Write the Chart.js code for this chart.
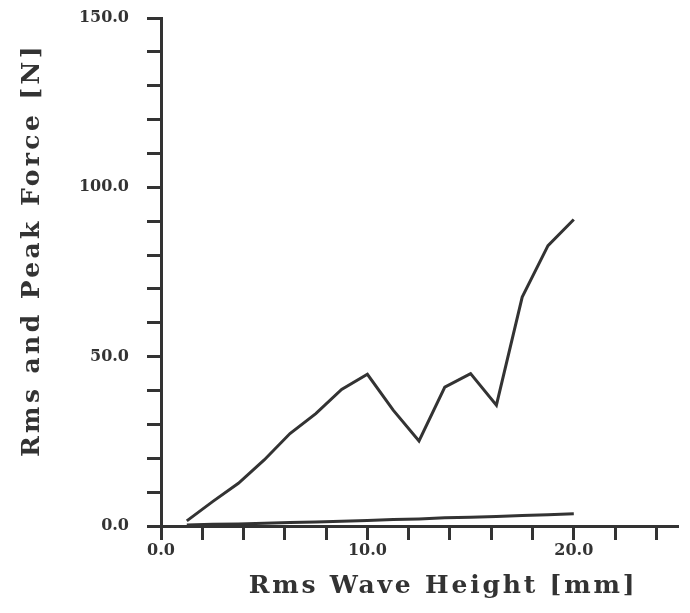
<!DOCTYPE html>
<html>
<head>
<meta charset="utf-8">
<script src="https://cdn.jsdelivr.net/npm/chart.js@4/dist/chart.umd.min.js"></script>
<style>
  html, body { margin: 0; padding: 0; background: #ffffff; }
  #wrap { width: 690px; height: 613px; position: relative; }
</style>
</head>
<body>
<div id="wrap"><canvas id="chart"></canvas></div>
<script>
// ---- data ----
const waveHeight = [1.25, 2.5, 3.75, 5, 6.25, 7.5, 8.75, 10, 11.25, 12.5, 13.75, 15, 16.25, 17.5, 18.75, 20];
const peakForce  = [1.5, 7.2, 12.6, 19.5, 27.3, 33.2, 40.3, 44.8, 34.2, 25.1, 41.0, 45.0, 35.7, 67.6, 82.8, 90.5];
const rmsForce   = [0.3, 0.5, 0.6, 0.8, 1.0, 1.2, 1.4, 1.6, 1.9, 2.1, 2.4, 2.6, 2.8, 3.1, 3.3, 3.6];
const xTickValues = [0, 10, 20];
const xTickLabels = ['0.0', '10.0', '20.0'];
const yTickValues = [0, 50, 100, 150];
const yTickLabels = ['0.0', '50.0', '100.0', '150.0'];
const xTitle = 'Rms Wave Height [mm]';
const yTitle = 'Rms and Peak Force [N]';

// ---- styling ----
const ink = '#333333';
const titleStyle = {
  x: { dx: 24, dy: 0, spacing: '2.8px' },
  y: { dx: 0, dy: -22, spacing: '3.4px' }
};

class SpacedTitleScale extends Chart.LinearScale {
  drawTitle() {
    const ctx = this.ctx;
    const s = titleStyle[this.id] || { dx: 0, dy: 0, spacing: '0px' };
    ctx.save();
    ctx.letterSpacing = s.spacing;
    ctx.translate(s.dx, s.dy);
    super.drawTitle();
    ctx.restore();
  }
}
SpacedTitleScale.id = 'spacedLinear';
SpacedTitleScale.defaults = Chart.LinearScale.defaults;
Chart.register(SpacedTitleScale);

const toPoints = (xs, ys) => xs.map((x, i) => ({ x: x, y: ys[i] }));
const lookup = (vals, labels) => (v) => { const i = vals.indexOf(v); return i >= 0 ? labels[i] : ''; };

const tickFont = { family: 'DejaVu Serif', weight: 'bold', size: 16 };
const titleFont = { family: 'DejaVu Serif', weight: 'bold', size: 25 };

new Chart(document.getElementById('chart'), {
  type: 'line',
  data: {
    datasets: [
      { label: 'Peak Force', data: toPoints(waveHeight, peakForce), borderColor: ink, borderWidth: 3, pointRadius: 0, tension: 0, fill: false },
      { label: 'Rms Force',  data: toPoints(waveHeight, rmsForce),  borderColor: ink, borderWidth: 3, pointRadius: 0, tension: 0, fill: false }
    ]
  },
  options: {
    responsive: true,
    maintainAspectRatio: false,
    devicePixelRatio: 1,
    animation: false,
    layout: { padding: { top: 18, right: 13, left: 0, bottom: 0 } },
    plugins: { legend: { display: false }, tooltip: { enabled: false } },
    scales: {
      x: {
        type: 'spacedLinear',
        position: 'bottom',
        min: 0, max: 25,
        afterFit: (s) => { s.height = 87; s.paddingLeft = 0; s.paddingRight = 0; },
        border: { display: true, color: ink, width: 3 },
        grid: { display: true, drawOnChartArea: false, drawTicks: true, tickLength: 14, color: ink, lineWidth: 3 },
        ticks: {
          stepSize: 2, includeBounds: false, autoSkip: false, maxRotation: 0, minRotation: 0,
          padding: 1, color: ink, font: tickFont,
          callback: lookup(xTickValues, xTickLabels)
        },
        title: { display: true, text: xTitle, color: ink, font: titleFont, padding: { top: 4, bottom: 12 } }
      },
      y: {
        type: 'spacedLinear',
        position: 'left',
        min: 0, max: 150,
        afterFit: (s) => { s.width = 161; s.paddingTop = 0; s.paddingBottom = 0; },
        border: { display: true, color: ink, width: 3 },
        grid: { display: true, drawOnChartArea: false, drawTicks: true, tickLength: 14, color: ink, lineWidth: 3 },
        ticks: {
          stepSize: 10, includeBounds: false, autoSkip: false,
          padding: 18, color: ink, font: tickFont,
          callback: lookup(yTickValues, yTickLabels)
        },
        title: { display: true, text: yTitle, color: ink, font: titleFont, padding: { top: 17, bottom: 4 } }
      }
    }
  }
});
</script>
</body>
</html>
